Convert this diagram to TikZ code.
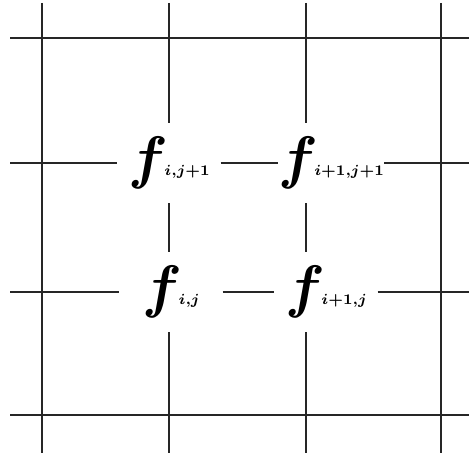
\documentclass[tikz,border=0pt]{standalone}
\usepackage{amsmath,bm,graphicx}
\usetikzlibrary{positioning,calc}
\newcommand{\fval}[1]{\scalebox{5}{$\bm{f}$}\kern-3pt\raisebox{1.5pt}{\scalebox{1.8}{$\scriptstyle\bm{#1}$}}}

\begin{document}
\begin{tikzpicture}[
    x=0.03cm, y=-0.03cm,
    grid/.style={line width=1.2pt, draw=black!85},
    val/.style={inner sep=0pt, minimum width=3.09cm, minimum height=2.4cm}
]
\useasboundingbox (0,0) rectangle (469,458);

% values at the inner grid points
\node[val] (fij1) at (169,163) {\fval{i,j+1}};
\node[val] (fi1j1) at (331,163) {\fval{i+1,j+1}};
\node[val] (fij) at (171,292) {\fval{i,j}};
\node[val] (fi1j) at (326,292) {\fval{i+1,j}};

% ends of the grid lines
\coordinate (top1) at (42,3);   \coordinate (bot1) at (42,453);
\coordinate (top2) at (169,3);  \coordinate (bot2) at (169,453);
\coordinate (top3) at (306,3);  \coordinate (bot3) at (306,453);
\coordinate (top4) at (441,3);  \coordinate (bot4) at (441,453);
\coordinate (lft1) at (10,38);  \coordinate (rgt1) at (469,38);
\coordinate (lft2) at (10,163); \coordinate (rgt2) at (469,163);
\coordinate (lft3) at (10,292); \coordinate (rgt3) at (469,292);
\coordinate (lft4) at (10,415); \coordinate (rgt4) at (469,415);

% outer lines
\draw[grid] (top1) -- (bot1);
\draw[grid] (top4) -- (bot4);
\draw[grid] (lft1) -- (rgt1);
\draw[grid] (lft4) -- (rgt4);

% rows through the values
\draw[grid] (lft2) -- (fij1.west);
\draw[grid] (fij1.east) -- (fi1j1.west);
\draw[grid] (fi1j1.east) -- (rgt2);
\draw[grid] (lft3) -- (fij.west);
\draw[grid] (fij.east) -- (fi1j.west);
\draw[grid] (fi1j.east) -- (rgt3);

% columns through the values
\draw[grid] (top2) -- (top2 |- fij1.north);
\draw[grid] (top2 |- fij1.south) -- (top2 |- fij.north);
\draw[grid] (top2 |- fij.south) -- (bot2);
\draw[grid] (top3) -- (top3 |- fi1j1.north);
\draw[grid] (top3 |- fi1j1.south) -- (top3 |- fi1j.north);
\draw[grid] (top3 |- fi1j.south) -- (bot3);
\end{tikzpicture}
\end{document}
